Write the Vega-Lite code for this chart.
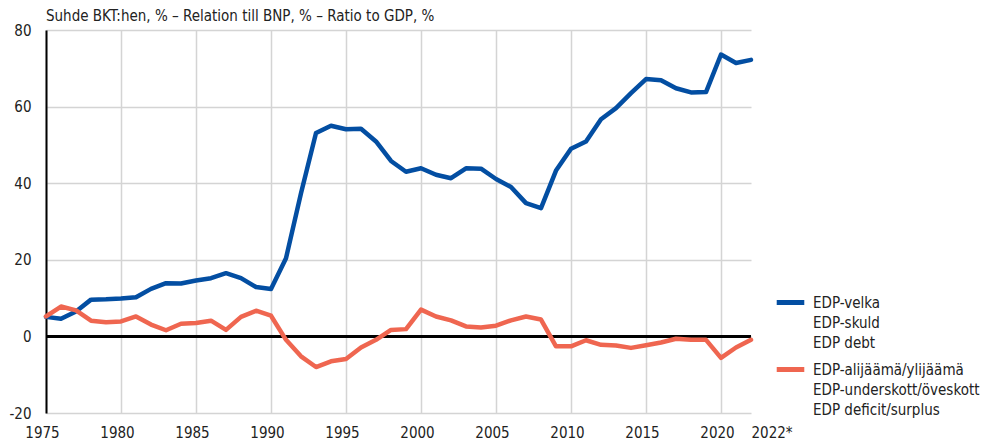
{
  "$schema": "https://vega.github.io/schema/vega-lite/v6.json",
  "autosize": {"type": "none"},
  "padding": {"left": 46, "top": 30, "right": 254, "bottom": 33},
  "width": 705,
  "height": 383,
  "background": "white",
  "config": {
    "font": "'DejaVu Sans Condensed', Roboto, sans-serif",
    "view": {"stroke": null},
    "style": {"guide-label": {"lineHeight": 20}}
  },
  "title": {
    "text": "Suhde BKT:hen, % – Relation till BNP, % – Ratio to GDP, %",
    "anchor": "start",
    "frame": "group",
    "fontSize": 15,
    "fontWeight": "normal",
    "color": "#222222",
    "offset": 0,
    "dy": 1
  },
  "data": {
    "values": [
      {"year": 1975, "series": "debt", "value": 5.1},
      {"year": 1976, "series": "debt", "value": 4.6},
      {"year": 1977, "series": "debt", "value": 6.5},
      {"year": 1978, "series": "debt", "value": 9.6},
      {"year": 1979, "series": "debt", "value": 9.7},
      {"year": 1980, "series": "debt", "value": 9.9},
      {"year": 1981, "series": "debt", "value": 10.2},
      {"year": 1982, "series": "debt", "value": 12.4},
      {"year": 1983, "series": "debt", "value": 13.9},
      {"year": 1984, "series": "debt", "value": 13.8},
      {"year": 1985, "series": "debt", "value": 14.6},
      {"year": 1986, "series": "debt", "value": 15.2},
      {"year": 1987, "series": "debt", "value": 16.5},
      {"year": 1988, "series": "debt", "value": 15.2},
      {"year": 1989, "series": "debt", "value": 12.9},
      {"year": 1990, "series": "debt", "value": 12.4},
      {"year": 1991, "series": "debt", "value": 20.4},
      {"year": 1992, "series": "debt", "value": 37.4},
      {"year": 1993, "series": "debt", "value": 53.1},
      {"year": 1994, "series": "debt", "value": 55.0},
      {"year": 1995, "series": "debt", "value": 54.1},
      {"year": 1996, "series": "debt", "value": 54.2},
      {"year": 1997, "series": "debt", "value": 50.9},
      {"year": 1998, "series": "debt", "value": 45.8},
      {"year": 1999, "series": "debt", "value": 43.0},
      {"year": 2000, "series": "debt", "value": 43.9},
      {"year": 2001, "series": "debt", "value": 42.2},
      {"year": 2002, "series": "debt", "value": 41.3},
      {"year": 2003, "series": "debt", "value": 43.9},
      {"year": 2004, "series": "debt", "value": 43.8},
      {"year": 2005, "series": "debt", "value": 41.1},
      {"year": 2006, "series": "debt", "value": 39.0},
      {"year": 2007, "series": "debt", "value": 34.8},
      {"year": 2008, "series": "debt", "value": 33.5},
      {"year": 2009, "series": "debt", "value": 43.3},
      {"year": 2010, "series": "debt", "value": 49.0},
      {"year": 2011, "series": "debt", "value": 50.9},
      {"year": 2012, "series": "debt", "value": 56.7},
      {"year": 2013, "series": "debt", "value": 59.6},
      {"year": 2014, "series": "debt", "value": 63.5},
      {"year": 2015, "series": "debt", "value": 67.2},
      {"year": 2016, "series": "debt", "value": 66.9},
      {"year": 2017, "series": "debt", "value": 64.8},
      {"year": 2018, "series": "debt", "value": 63.7},
      {"year": 2019, "series": "debt", "value": 63.8},
      {"year": 2020, "series": "debt", "value": 73.6},
      {"year": 2021, "series": "debt", "value": 71.4},
      {"year": 2022, "series": "debt", "value": 72.2},
      {"year": 1975, "series": "balance", "value": 5.2},
      {"year": 1976, "series": "balance", "value": 7.8},
      {"year": 1977, "series": "balance", "value": 6.8},
      {"year": 1978, "series": "balance", "value": 4.1},
      {"year": 1979, "series": "balance", "value": 3.7},
      {"year": 1980, "series": "balance", "value": 3.9},
      {"year": 1981, "series": "balance", "value": 5.2},
      {"year": 1982, "series": "balance", "value": 3.1},
      {"year": 1983, "series": "balance", "value": 1.6},
      {"year": 1984, "series": "balance", "value": 3.3},
      {"year": 1985, "series": "balance", "value": 3.5},
      {"year": 1986, "series": "balance", "value": 4.1},
      {"year": 1987, "series": "balance", "value": 1.7},
      {"year": 1988, "series": "balance", "value": 5.1},
      {"year": 1989, "series": "balance", "value": 6.7},
      {"year": 1990, "series": "balance", "value": 5.4},
      {"year": 1991, "series": "balance", "value": -0.9},
      {"year": 1992, "series": "balance", "value": -5.2},
      {"year": 1993, "series": "balance", "value": -8.0},
      {"year": 1994, "series": "balance", "value": -6.5},
      {"year": 1995, "series": "balance", "value": -5.9},
      {"year": 1996, "series": "balance", "value": -2.9},
      {"year": 1997, "series": "balance", "value": -0.9},
      {"year": 1998, "series": "balance", "value": 1.7},
      {"year": 1999, "series": "balance", "value": 1.9},
      {"year": 2000, "series": "balance", "value": 7.0},
      {"year": 2001, "series": "balance", "value": 5.2},
      {"year": 2002, "series": "balance", "value": 4.2},
      {"year": 2003, "series": "balance", "value": 2.6},
      {"year": 2004, "series": "balance", "value": 2.3},
      {"year": 2005, "series": "balance", "value": 2.8},
      {"year": 2006, "series": "balance", "value": 4.2},
      {"year": 2007, "series": "balance", "value": 5.2},
      {"year": 2008, "series": "balance", "value": 4.4},
      {"year": 2009, "series": "balance", "value": -2.6},
      {"year": 2010, "series": "balance", "value": -2.6},
      {"year": 2011, "series": "balance", "value": -1.0},
      {"year": 2012, "series": "balance", "value": -2.2},
      {"year": 2013, "series": "balance", "value": -2.4},
      {"year": 2014, "series": "balance", "value": -3.0},
      {"year": 2015, "series": "balance", "value": -2.3},
      {"year": 2016, "series": "balance", "value": -1.6},
      {"year": 2017, "series": "balance", "value": -0.6},
      {"year": 2018, "series": "balance", "value": -0.9},
      {"year": 2019, "series": "balance", "value": -0.9},
      {"year": 2020, "series": "balance", "value": -5.6},
      {"year": 2021, "series": "balance", "value": -2.9},
      {"year": 2022, "series": "balance", "value": -0.9}
    ]
  },
  "layer": [
    {
      "mark": {"type": "rule", "color": "black", "strokeWidth": 2},
      "encoding": {
        "y": {"datum": 0, "type": "quantitative", "scale": {"domain": [-20, 80], "nice": false}}
      }
    },
    {
      "mark": {"type": "line", "strokeWidth": 4.5, "strokeJoin": "round", "strokeCap": "round"},
      "encoding": {
        "x": {
          "field": "year",
          "type": "quantitative",
          "scale": {"domain": [1975, 2022], "nice": false, "zero": false},
          "axis": {
            "title": null,
            "values": [1975, 1980, 1985, 1990, 1995, 2000, 2005, 2010, 2015, 2020, 2022],
            "labelExpr": "datum.value == 2022 ? '2022*' : '' + datum.value",
            "domain": false,
            "ticks": false,
            "grid": true,
            "gridColor": "#d4d4d4",
            "gridWidth": 1.5,
            "gridOpacity": {"condition": {"test": "datum.value == 2022", "value": 0}, "value": 1},
            "labelAlign": {"condition": {"test": "datum.value == 2022", "value": "left"}, "value": "center"},
            "labelOffset": {"condition": {"test": "datum.value == 2022", "value": 0}, "value": -4},
            "labelFontSize": 15,
            "labelColor": "#222222",
            "labelPadding": 12,
            "labelFlush": false,
            "labelOverlap": false
          }
        },
        "y": {
          "field": "value",
          "type": "quantitative",
          "scale": {"domain": [-20, 80], "nice": false},
          "axis": {
            "title": null,
            "values": [-20, 0, 20, 40, 60, 80],
            "labelExpr": "'' + datum.value",
            "domain": true,
            "domainColor": "black",
            "domainWidth": 2,
            "ticks": false,
            "grid": true,
            "gridColor": "#d4d4d4",
            "gridWidth": 1.5,
            "labelFontSize": 15,
            "labelColor": "#222222",
            "labelPadding": 15
          }
        },
        "color": {
          "field": "series",
          "type": "nominal",
          "scale": {"domain": ["debt", "balance"], "range": ["#034ea2", "#ef6650"]},
          "legend": {
            "title": null,
            "orient": "none",
            "legendX": 728,
            "legendY": 256,
            "symbolType": "stroke",
            "symbolStrokeWidth": 5,
            "symbolSize": 760,
            "labelFontSize": 15,
            "labelColor": "#222222",
            "labelLimit": 300,
            "labelOffset": 6,
            "rowPadding": 2,
            "labelExpr": "datum.value == 'debt' ? ['EDP-velka', 'EDP-skuld', 'EDP debt'] : ['EDP-alijäämä/ylijäämä', 'EDP-underskott/öveskott', 'EDP deficit/surplus']"
          }
        }
      }
    }
  ]
}
